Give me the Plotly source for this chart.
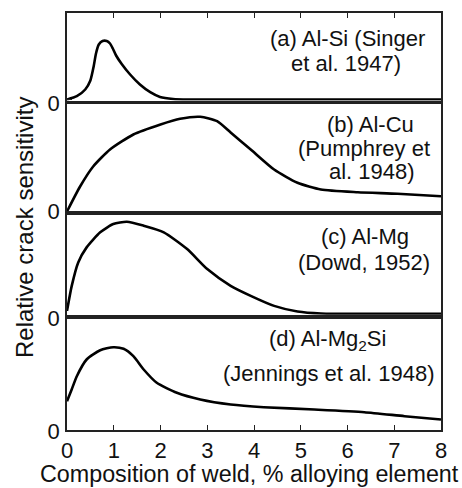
import plotly.graph_objects as go

# Composition of weld (% alloying element) and relative crack sensitivity (arbitrary units)
si_x = [0, 0.21, 0.39, 0.5, 0.57, 0.62, 0.68, 0.76, 0.85, 0.92, 0.98, 1.05, 1.17, 1.35, 1.56, 1.78, 1.99, 2.27, 2.6, 4, 6, 8]
si_y = [0, 3.3, 10, 19, 33, 46, 55, 58.5, 58.5, 56, 51, 44, 35.5, 25, 15, 7.3, 2.5, 0.5, 0, 0, 0, 0]

cu_x = [0, 0.28, 0.56, 0.92, 1.42, 2.0, 2.42, 2.85, 3.21, 3.5, 3.93, 4.43, 4.93, 5.43, 6.22, 7.07, 8]
cu_y = [1, 26, 46, 63, 78, 88, 93.7, 95.7, 91.3, 80, 63, 43, 29.7, 23, 20.3, 18.7, 16.3]

mg_x = [0, 0.1, 0.24, 0.42, 0.71, 0.99, 1.28, 1.64, 2.07, 2.57, 3.0, 3.5, 3.93, 4.43, 4.93, 5.43, 6.5, 8]
mg_y = [3.3, 28, 51.7, 66.7, 81.7, 90, 92.3, 88.3, 81.7, 65, 45, 28.3, 18.3, 8.3, 2.7, 0.7, 0.3, 0.3]

mg2si_x = [0, 0.1, 0.21, 0.42, 0.71, 0.99, 1.21, 1.42, 1.64, 1.92, 2.35, 2.85, 3.5, 4.21, 5.29, 6.36, 7.22, 8]
mg2si_y = [28.3, 40, 53.3, 70, 79.3, 82.3, 80.7, 73.3, 60, 46.7, 36.7, 30, 25, 22.3, 20, 17.3, 13.3, 10]

x_ticks = [0, 1, 2, 3, 4, 5, 6, 7, 8]

panel_labels = [
    ["(a) Al-Si (Singer", "et al. 1947)"],
    ["(b) Al-Cu", "(Pumphrey et", "al. 1948)"],
    ["(c) Al-Mg", "(Dowd, 1952)"],
    ["(d) Al-Mg<sub>2</sub>Si", "(Jennings et al. 1948)"],
]

FONT = "Liberation Sans, Arial, Helvetica, sans-serif"
INK = "#111111"
FRAME = "#222222"

W, H = 462, 488
L, R, T, B = 67, 21, 13, 58
PW, PH = W - L - R, H - T - B


def fx(px):
    return (px - L) / PW


def fy(py):
    return (H - B - py) / PH


# pixel extents (top, bottom) of each panel, its y range and "0" label offset
panels = [
    (13, 100.5, [-1, 86.5], 4),
    (104, 213, [-0.5, 108.5], -1),
    (213, 314.7, [-0.5, 101], 4),
    (319, 430, [-0.5, 110.5], 2),
]
series = [(si_x, si_y), (cu_x, cu_y), (mg_x, mg_y), (mg2si_x, mg2si_y)]

fig = go.Figure()
layout = dict(
    width=W, height=H,
    margin=dict(l=L, r=R, t=T, b=B),
    paper_bgcolor="white", plot_bgcolor="white",
    showlegend=False,
    font=dict(family=FONT, size=22, color=INK),
)

for i, ((top, bot, yr, shift), (xs, ys)) in enumerate(zip(panels, series)):
    n = "" if i == 0 else str(i + 1)
    fig.add_trace(go.Scatter(
        x=xs, y=ys, mode="lines",
        line=dict(color="black", width=2.6, shape="spline", smoothing=0.6),
        xaxis="x" + n, yaxis="y" + n, hoverinfo="skip",
    ))
    xa = dict(
        domain=[0, 1], range=[0, 8], anchor="y" + n,
        showline=True, linecolor=FRAME, linewidth=1.5, mirror=True,
        showgrid=False, zeroline=False, ticks="", showticklabels=False,
    )
    if i > 0:
        xa["matches"] = "x"
    if i == 0:
        xa.update(side="top", ticks="inside", ticklen=5, tickwidth=1.3,
                  tickcolor=FRAME, tickvals=x_ticks[1:-1])
    if i == 3:
        xa.update(ticks="inside", ticklen=5, tickwidth=1.3, tickcolor=FRAME,
                  tickvals=x_ticks, ticktext=[str(v) for v in x_ticks],
                  showticklabels=True, tickfont=dict(size=22, color=INK),
                  ticklabelstandoff=0)
    ya = dict(
        domain=[fy(bot), fy(top)], range=yr, anchor="x" + n,
        showline=True, linecolor=FRAME, linewidth=1.5, mirror=True,
        showgrid=False, zeroline=False,
        ticks="inside", ticklen=5, tickwidth=1.3, tickcolor=FRAME,
        tickvals=[0], ticktext=["0"], tickfont=dict(size=22, color=INK),
        ticklabelshift=shift, ticklabelstandoff=1,
    )
    layout["xaxis" + n] = xa
    layout["yaxis" + n] = ya

# panel captions, one annotation per line: (center px, middle py)
caption_pos = [
    [(347, 39), (346, 63)],
    [(370, 124), (364, 148), (372, 171)],
    [(365, 236), (364, 262)],
    [(327, 340), (329, 373)],
]
annotations = []
for lines, pos in zip(panel_labels, caption_pos):
    for text, (px, py) in zip(lines, pos):
        annotations.append(dict(
            text=text, xref="paper", yref="paper", x=fx(px), y=fy(py),
            xanchor="center", yanchor="middle", showarrow=False,
            font=dict(family=FONT, size=22, color=INK),
        ))

annotations.append(dict(
    text="Relative crack sensitivity", xref="paper", yref="paper",
    x=fx(24), y=fy(228), textangle=-90, xanchor="center", yanchor="middle",
    showarrow=False, font=dict(family=FONT, size=24, color=INK),
))
annotations.append(dict(
    text="Composition of weld, % alloying element", xref="paper", yref="paper",
    x=fx(38), y=fy(474), xanchor="left", yanchor="middle",
    showarrow=False, font=dict(family=FONT, size=23.3, color=INK),
))
layout["annotations"] = annotations

fig.update_layout(**layout)
fig.write_html("out.html")
